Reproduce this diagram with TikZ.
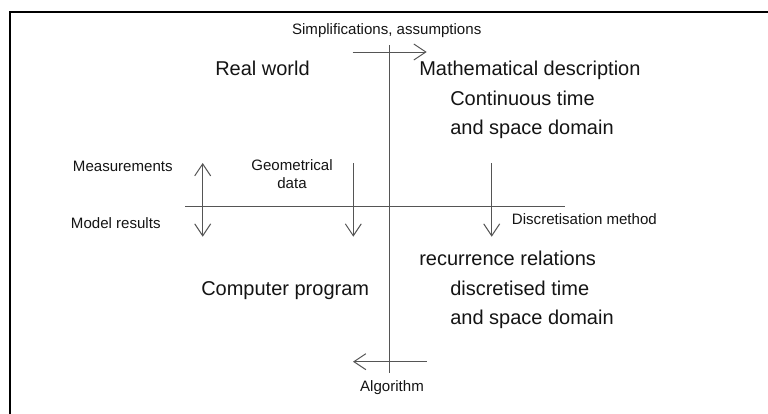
\documentclass[tikz,border=0pt]{standalone}
\usepackage{fontspec}
\setmainfont{Liberation Sans}
\usetikzlibrary{arrows.meta}
\definecolor{axisgray}{RGB}{85,85,85}
\definecolor{txt}{RGB}{20,20,20}
\begin{document}
\begin{tikzpicture}[x=0.75pt,y=-0.75pt,
  big/.style={font=\fontsize{15}{18}\selectfont, inner sep=0pt, text=txt},
  small/.style={font=\fontsize{11.3}{13.7}\selectfont, inner sep=0pt, text=txt},
  axis/.style={draw=axisgray, line width=0.9pt},
  arr/.style={draw=axisgray, line width=0.75pt, -{Straight Barb[length=9pt,width=12pt]}},
  darr/.style={draw=axisgray, line width=0.75pt, {Straight Barb[length=9pt,width=12pt]}-{Straight Barb[length=9pt,width=12pt]}},
  frame/.style={draw=black, line width=1.5pt}
]
\useasboundingbox (0,0) rectangle (768,414);
% frame
\coordinate (fb) at (10,420);
\coordinate (fc) at (10,12);
\coordinate (fr) at (775,12);
\begin{scope}
\clip (0,0) rectangle (768,414);
\draw[frame] (fb) -- (fc) -- (fr);
\end{scope}
% axes
\coordinate (vt) at (389.5,45);
\coordinate (vb) at (389.5,373);
\coordinate (hl) at (185,206.7);
\coordinate (hr) at (565,206.7);
\draw[axis] (vt) -- (vb);
\draw[axis] (hl) -- (hr);
% top and bottom arrows
\coordinate (ta1) at (352.7,52);
\coordinate (ta2) at (426.7,52);
\coordinate (ba1) at (426.7,361.7);
\coordinate (ba2) at (353,361.7);
\draw[arr] (ta1) -- (ta2);
\draw[arr] (ba1) -- (ba2);
% vertical arrows
\coordinate (m1) at (202.7,163);
\coordinate (m2) at (202.7,236.7);
\draw[darr] (m1) -- (m2);
\coordinate (g1) at (353.3,163);
\coordinate (g2) at (353.3,236.7);
\draw[arr] (g1) -- (g2);
\coordinate (d1) at (491.7,163);
\coordinate (d2) at (491.7,236.7);
\draw[arr] (d1) -- (d2);
% big texts
\node[big, anchor=base west] (rw) at (215,75) {Real world};
\node[big, anchor=base west] (md) at (419,75) {Mathematical description};
\node[big, anchor=base west] (ct) at (450,105) {Continuous time};
\node[big, anchor=base west] (sd1) at (450,134) {and space domain};
\node[big, anchor=base west] (rr) at (419,265) {recurrence relations};
\node[big, anchor=base west] (dt) at (450,295) {discretised time};
\node[big, anchor=base west] (sd2) at (450,324) {and space domain};
\node[big, anchor=base west] (cp) at (201,295) {Computer program};
% small texts
\node[small, anchor=base] (sa) at (386.7,34.5) {Simplifications, assumptions};
\node[small, anchor=base west] (ms) at (72.7,171.5) {Measurements};
\node[small, anchor=base west] (mr) at (70.7,228) {Model results};
\node[small, anchor=base] (geo) at (292,170.5) {Geometrical};
\node[small, anchor=base] (dat) at (292,188.8) {data};
\node[small, anchor=base west] (dm) at (511.7,224.5) {Discretisation method};
\node[small, anchor=base] (alg) at (392,391.5) {Algorithm};
\end{tikzpicture}
\end{document}
